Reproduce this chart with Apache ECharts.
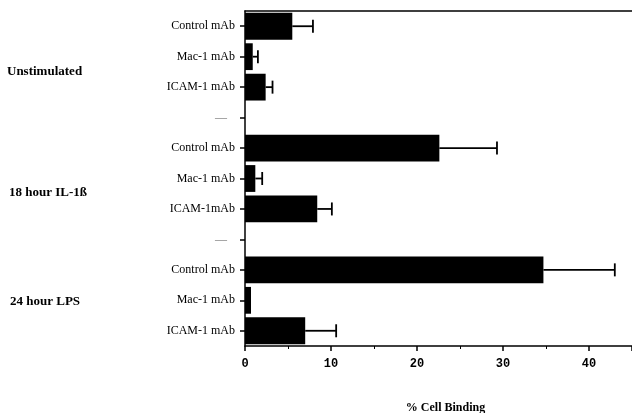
<!DOCTYPE html>
<html>
<head>
<meta charset="utf-8">
<script src="https://cdn.jsdelivr.net/npm/echarts@6/dist/echarts.min.js"></script>
<style>html,body{margin:0;padding:0;background:#fff;}#c{width:632px;height:413px;}</style>
</head>
<body>
<div id="c"></div>
<script>
var categories = ['Control mAb','Mac-1 mAb','ICAM-1 mAb','\u2014','Control mAb','Mac-1 mAb','ICAM-1mAb','\u2014','Control mAb','Mac-1 mAb','ICAM-1 mAb'];
var meanBinding = [5.5, 0.9, 2.4, null, 22.6, 1.2, 8.4, null, 34.7, 0.7, 7.0];
var errorHigh  = [7.9, 1.5, 3.2, null, 29.3, 2.0, 10.1, null, 43.0, null, 10.6];
var groupLabels = ['Unstimulated', '18 hour IL-1\u00df', '24 hour LPS'];
var xTicks = [0, 10, 20, 30, 40];

var chart = echarts.init(document.getElementById('c'));
var errData = [];
for (var i = 0; i < categories.length; i++) {
  if (errorHigh[i] != null) errData.push([i, meanBinding[i], errorHigh[i]]);
}
var serif = '"Liberation Serif", "DejaVu Serif", serif';
chart.setOption({
  animation: false,
  grid: {left: 245, right: 0, top: 11, bottom: 67, containLabel: false, outerBoundsMode: 'none'},
  xAxis: [{
    type: 'value', min: 0, max: 45, interval: 10,
    axisLine: {show: true, lineStyle: {color: '#000', width: 1.5}},
    axisTick: {show: true, length: 5, lineStyle: {color: '#000', width: 1.5}},
    minorTick: {show: true, splitNumber: 2, length: 3, lineStyle: {color: '#000', width: 1}},
    splitLine: {show: false},
    axisLabel: {
      showMaxLabel: false, margin: 12, color: '#000',
      fontFamily: '"Liberation Mono", monospace', fontWeight: 'bold', fontSize: 12,
      formatter: function (v) { return xTicks.indexOf(v) >= 0 ? String(v) : ''; }
    },
    name: '% Cell Binding', nameLocation: 'middle', nameGap: 56,
    nameTextStyle: {fontFamily: serif, fontWeight: 'bold', fontSize: 12, color: '#000', padding: [0, 0, 0, 14]}
  }, {
    type: 'value', position: 'top', min: 0, max: 45,
    axisLine: {show: true, onZero: false, lineStyle: {color: '#000', width: 1.5}},
    axisTick: {show: false}, axisLabel: {show: false}, splitLine: {show: false}
  }],
  yAxis: {
    type: 'category', data: categories, inverse: true,
    axisLine: {show: true, lineStyle: {color: '#000', width: 1.5}},
    axisTick: {show: true, alignWithLabel: true, length: 5, lineStyle: {color: '#000', width: 1.5}},
    axisLabel: {
      margin: 10, fontFamily: serif, fontSize: 12, color: '#000',
      formatter: function (v) { return v === '\u2014' ? '{d|\u2014}' : v; },
      rich: {d: {color: '#777', fontSize: 12, fontFamily: serif, padding: [0, 8, 0, 0]}}
    }
  },
  series: [
    {
      type: 'bar', data: meanBinding, barCategoryGap: '12%',
      itemStyle: {color: '#000'}, z: 2
    },
    {
      type: 'custom', data: errData, z: 3,
      renderItem: function (params, api) {
        var cat = api.value(0);
        var p0 = api.coord([api.value(1), cat]);
        var p1 = api.coord([api.value(2), cat]);
        var h = 6.5;
        return {
          type: 'group',
          children: [
            {type: 'line', shape: {x1: p0[0], y1: p0[1], x2: p1[0], y2: p1[1]}, style: {stroke: '#000', lineWidth: 1.8}},
            {type: 'line', shape: {x1: p1[0], y1: p1[1] - h, x2: p1[0], y2: p1[1] + h}, style: {stroke: '#000', lineWidth: 1.8}}
          ]
        };
      }
    }
  ],
  graphic: [
    {type: 'text', left: 7, top: 65, style: {text: groupLabels[0], font: 'bold 13px ' + serif, fill: '#000'}},
    {type: 'text', left: 9, top: 186, style: {text: groupLabels[1], font: 'bold 13px ' + serif, fill: '#000'}},
    {type: 'text', left: 10, top: 295, style: {text: groupLabels[2], font: 'bold 13px ' + serif, fill: '#000'}}
  ]
});
</script>
</body>
</html>
